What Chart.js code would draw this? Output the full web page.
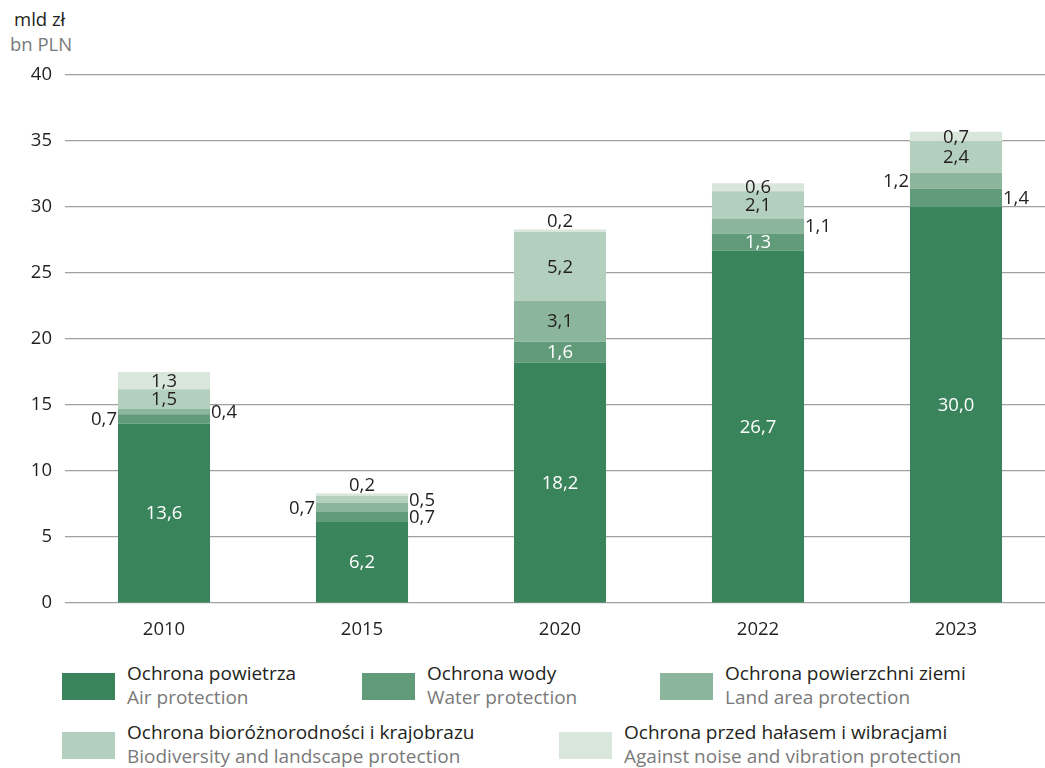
<!DOCTYPE html>
<html>
<head>
<meta charset="utf-8">
<script src="https://cdn.jsdelivr.net/npm/chart.js@4.4.0/dist/chart.umd.min.js"></script>
<style>
  html, body { margin: 0; padding: 0; background: #fff; overflow: hidden; width: 1045px; height: 768px; }
  body { font-family: "Open Sans", sans-serif; position: relative; }
  #wrap { position: absolute; left: 0; top: 0; width: 1045px; height: 640px; overflow: hidden; }
  #cv { position: absolute; left: 0; top: 0; }
  .unit { position: absolute; font-size: 18.5px; line-height: 22px; white-space: nowrap; }
  .pl { color: #231f20; }
  .en { color: #7a7a7a; }
  .sw { position: absolute; width: 53px; height: 27px; }
  .lt { position: absolute; font-size: 19px; line-height: 22px; white-space: nowrap; }
</style>
</head>
<body>
<div class="unit pl" style="left:14px; top:8px;">mld zł</div>
<div class="unit en" style="left:10px; top:33px;">bn PLN</div>
<div id="wrap"><canvas id="cv"></canvas></div>
<div id="legend"></div>
<script>
const categories = ["2010", "2015", "2020", "2022", "2023"];
const seriesPL = ["Ochrona powietrza", "Ochrona wody", "Ochrona powierzchni ziemi", "Ochrona bioróżnorodności i krajobrazu", "Ochrona przed hałasem i wibracjami"];
const seriesEN = ["Air protection", "Water protection", "Land area protection", "Biodiversity and landscape protection", "Against noise and vibration protection"];
const airValues = [13.6, 6.2, 18.2, 26.7, 30.0];
const waterValues = [0.7, 0.7, 1.6, 1.3, 1.4];
const landValues = [0.4, 0.7, 3.1, 1.1, 1.2];
const bioValues = [1.5, 0.5, 5.2, 2.1, 2.4];
const noiseValues = [1.3, 0.2, 0.2, 0.6, 0.7];
const yTicks = [0, 5, 10, 15, 20, 25, 30, 35, 40];

const colors = ["#3a845c", "#619b79", "#8bb59c", "#b3cfbd", "#d8e6dc"];
const labelColors = ["#ffffff", "#ffffff", "#231f20", "#231f20", "#231f20"];
// label placement per dataset per category
const placement = [
  ["in", "in", "in", "in", "in"],
  ["left", "right", "in", "in", "right"],
  ["right", "left", "in", "right", "left"],
  ["in", "right", "in", "in", "in"],
  ["in", "above", "above", "in", "in"]
];

const allValues = [airValues, waterValues, landValues, bioValues, noiseValues];
const FONT = '"Open Sans", sans-serif';
const FS = 18.5;

const labelPlugin = {
  id: 'segLabels',
  afterDatasetsDraw(chart) {
    const ctx = chart.ctx;
    ctx.save();
    ctx.font = FS + 'px ' + FONT;
    chart.data.datasets.forEach((ds, di) => {
      const meta = chart.getDatasetMeta(di);
      meta.data.forEach((bar, i) => {
        const v = ds.data[i];
        const txt = v.toFixed(1).replace('.', ',');
        const p = placement[di][i];
        const top = Math.min(bar.y, bar.base), bot = Math.max(bar.y, bar.base);
        const cy = (top + bot) / 2;
        const half = bar.width / 2;
        ctx.textBaseline = 'middle';
        if (p === 'in') {
          ctx.fillStyle = labelColors[di];
          ctx.textAlign = 'center';
          ctx.fillText(txt, bar.x, cy + 1);
        } else if (p === 'left') {
          ctx.fillStyle = '#231f20';
          ctx.textAlign = 'right';
          ctx.fillText(txt, bar.x - half - 1, cy + 1);
        } else if (p === 'right') {
          ctx.fillStyle = '#231f20';
          ctx.textAlign = 'left';
          ctx.fillText(txt, bar.x + half + 1, cy + 1);
        } else if (p === 'above') {
          ctx.fillStyle = '#231f20';
          ctx.textAlign = 'center';
          ctx.fillText(txt, bar.x, top - 8);
        }
      });
    });
    ctx.restore();
  }
};

const canvas = document.getElementById('cv');
canvas.width = 1055; canvas.height = 640;
canvas.style.width = '1055px'; canvas.style.height = '640px';

new Chart(canvas, {
  type: 'bar',
  data: {
    labels: categories,
    datasets: allValues.map((vals, i) => ({
      label: seriesEN[i],
      data: vals,
      backgroundColor: colors[i],
      borderWidth: 0,
      categoryPercentage: 1,
      barPercentage: 0.465
    }))
  },
  options: {
    responsive: false,
    animation: false,
    devicePixelRatio: 1,
    layout: { padding: { top: 75, right: 0, bottom: 0, left: 0 } },
    plugins: { legend: { display: false }, tooltip: { enabled: false } },
    scales: {
      x: {
        stacked: true,
        grid: { display: false },
        border: { display: false },
        ticks: { color: '#231f20', font: { family: FONT, size: FS }, padding: 8 },
        afterFit(scale) { scale.height = 37; }
      },
      y: {
        stacked: true,
        min: 0, max: 40,
        afterBuildTicks(scale) { scale.ticks = yTicks.map(v => ({ value: v })); },
        grid: { color: '#a0a0a0', lineWidth: 1.2, drawTicks: false },
        border: { display: false },
        ticks: { color: '#231f20', font: { family: FONT, size: FS }, padding: 13 },
        afterFit(scale) { scale.width = 65; }
      }
    }
  },
  plugins: [labelPlugin]
});

// HTML legend
const legPos = [
  { sx: 62, sy: 673, tx: 127 },
  { sx: 362, sy: 673, tx: 427 },
  { sx: 660, sy: 673, tx: 725 },
  { sx: 62, sy: 732, tx: 127 },
  { sx: 559, sy: 732, tx: 624 }
];
const legend = document.getElementById('legend');
legPos.forEach((p, i) => {
  const sw = document.createElement('div');
  sw.className = 'sw';
  sw.style.left = p.sx + 'px'; sw.style.top = p.sy + 'px';
  sw.style.background = colors[i];
  legend.appendChild(sw);
  const t1 = document.createElement('div');
  t1.className = 'lt pl';
  t1.style.left = p.tx + 'px'; t1.style.top = (p.sy - 11) + 'px';
  t1.textContent = seriesPL[i];
  legend.appendChild(t1);
  const t2 = document.createElement('div');
  t2.className = 'lt en';
  t2.style.left = p.tx + 'px'; t2.style.top = (p.sy + 13) + 'px';
  t2.textContent = seriesEN[i];
  legend.appendChild(t2);
});
</script>
</body>
</html>
